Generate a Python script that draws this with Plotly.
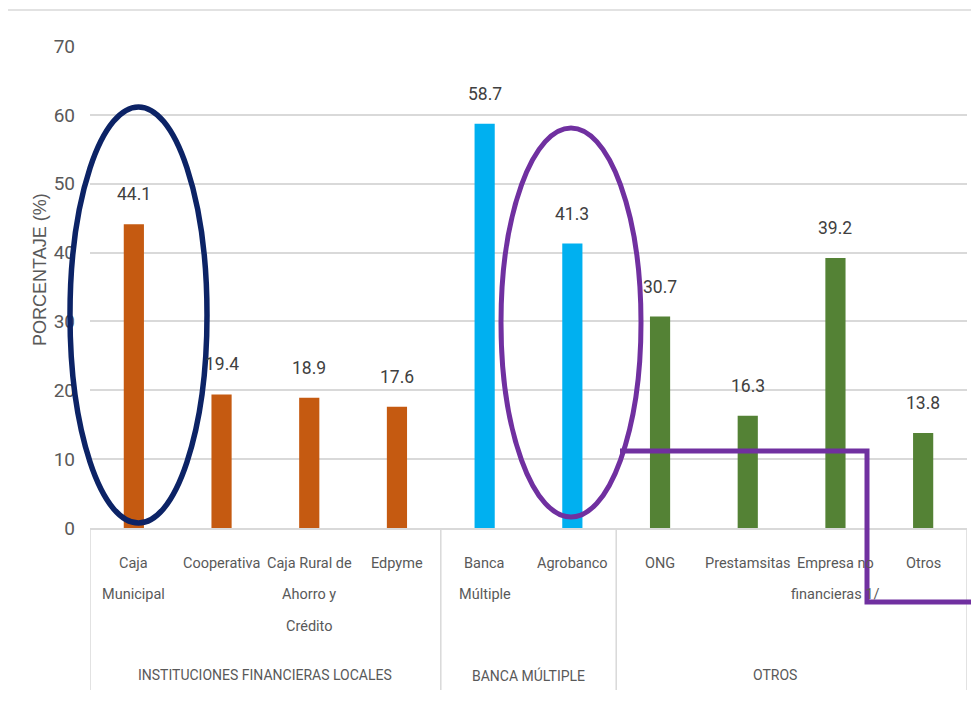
import plotly.graph_objects as go

# ---- data ----
categories = ["Caja Municipal", "Cooperativa", "Caja Rural de Ahorro y Crédito", "Edpyme",
              "Banca Múltiple", "Agrobanco",
              "ONG", "Prestamsitas", "Empresa no financieras 1/", "Otros"]
tick_labels = ["Caja\nMunicipal", "Cooperativa", "Caja Rural de\nAhorro y\nCrédito", "Edpyme",
               "Banca\nMúltiple", "Agrobanco",
               "ONG", "Prestamsitas", "Empresa no\nfinancieras 1/", "Otros"]
values = [44.1, 19.4, 18.9, 17.6, 58.7, 41.3, 30.7, 16.3, 39.2, 13.8]
groups = ["INSTITUCIONES FINANCIERAS LOCALES", "BANCA MÚLTIPLE", "OTROS"]
group_sizes = [4, 2, 4]
group_colors = ["#C55A11", "#00B0F0", "#548235"]
y_ticks = [0, 10, 20, 30, 40, 50, 60, 70]
y_title = "PORCENTAJE (%)"

# ---- layout geometry (pixels, in the screenshot's frame) ----
OFF = 8                       # page body margin
W, H = 979 - OFF, 703 - OFF   # figure size
PLOT_L, PLOT_R, PLOT_T, AXIS_Y = 90, 967, 46, 528
L = PLOT_L - OFF
T = PLOT_T - OFF
R = W - (PLOT_R - OFF)
B = H - (AXIS_Y - OFF)
PW, PH = PLOT_R - PLOT_L, AXIS_Y - PLOT_T


def px(x):
    return (x - PLOT_L) / PW


def py(y):
    return (AXIS_Y - y) / PH


FONT = "Roboto, Lato, Liberation Sans, sans-serif"
GRID = "#d9d9d9"
TXT = "#595959"

bar_colors = []
for c, n in zip(group_colors, group_sizes):
    bar_colors += [c] * n

fig = go.Figure(go.Bar(
    x=categories, y=values, width=0.23,
    marker=dict(color=bar_colors, line=dict(width=0)),
    hoverinfo="x+y",
))

annotations = []
# value labels
for cat, v in zip(categories, values):
    annotations.append(dict(x=cat, y=v, xref="x", yref="y", text=f"{v:.1f}",
                            showarrow=False, yshift=30, yanchor="middle",
                            font=dict(family=FONT, size=17.5, color="#404040")))
# category labels (one annotation per line)
for cat, lab in zip(categories, tick_labels):
    for j, line in enumerate(lab.split("\n")):
        annotations.append(dict(x=cat, y=0, xref="x", yref="paper", text=line,
                                showarrow=False, yshift=-(35 + 31.5 * j), yanchor="middle",
                                font=dict(family=FONT, size=14.5, color=TXT)))
# group labels and dividers
shapes = []
start = 0
divs = [-0.5]
for g, n in zip(groups, group_sizes):
    center = start + (n - 1) / 2
    annotations.append(dict(x=center, y=py(675), xref="x", yref="paper", text=g,
                            showarrow=False, yanchor="middle",
                            xshift=-17 if g == "OTROS" else 0,
                            font=dict(family=FONT, size=14, color=TXT)))
    start += n
    divs.append(start - 0.5)
for d in divs:
    shapes.append(dict(type="line", xref="x", yref="paper", x0=d, x1=d,
                       y0=0, y1=py(690), line=dict(color=GRID, width=1.5), layer="below"))

# y-axis title
annotations.append(dict(x=px(40), y=py(270), xref="paper", yref="paper", text=y_title,
                        textangle=-90, showarrow=False, xanchor="center", yanchor="middle",
                        font=dict(family="Liberation Sans, Arial, sans-serif", size=18, color=TXT)))

# outer chart border
shapes.append(dict(type="rect", xref="paper", yref="paper",
                   x0=px(4), x1=px(990), y0=py(10), y1=py(715),
                   line=dict(color=GRID, width=1.5), layer="below"))

# highlighting marks
shapes.append(dict(type="circle", xref="paper", yref="paper",
                   x0=px(70), x1=px(207), y0=py(107), y1=py(523),
                   line=dict(color="#0C2366", width=5.5)))
shapes.append(dict(type="circle", xref="paper", yref="paper",
                   x0=px(501), x1=px(641), y0=py(128), y1=py(517),
                   line=dict(color="#7030A0", width=5)))
shapes.append(dict(type="path", xref="paper", yref="paper",
                   path=f"M {px(620)},{py(451)} L {px(867)},{py(451)} L {px(867)},{py(602)} L {px(985)},{py(602)}",
                   line=dict(color="#7030A0", width=5)))

fig.update_layout(
    width=W, height=H,
    margin=dict(l=L, r=R, t=T, b=B),
    paper_bgcolor="white", plot_bgcolor="white",
    showlegend=False,
    xaxis=dict(range=[-0.5, 9.5], showticklabels=False, showgrid=False,
               showline=True, linecolor=GRID, linewidth=1.5, ticks="", fixedrange=True),
    yaxis=dict(range=[0, 70], tickvals=y_ticks, showgrid=True, gridcolor=GRID, gridwidth=1.5,
               zeroline=False, showline=False, ticks="", ticklabelstandoff=14,
               tickfont=dict(family=FONT, size=19, color=TXT)),
    annotations=annotations,
    shapes=shapes,
)

fig.write_html("out.html")
